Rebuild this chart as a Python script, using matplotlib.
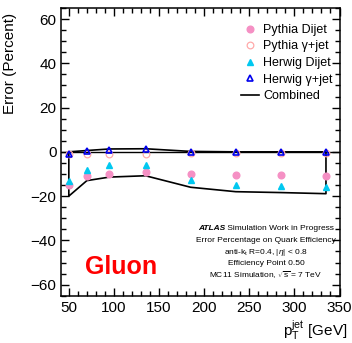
import matplotlib
matplotlib.use("Agg")
import matplotlib.pyplot as plt
from matplotlib.lines import Line2D
from matplotlib.ticker import MultipleLocator

# Jet pT bin centres [GeV]
pt = [50, 70, 95, 135, 185, 235, 285, 335]

# Relative error on the quark efficiency [%] for each generator / sample
pythia_dijet = [-15.0, -10.7, -10.0, -9.2, -10.0, -10.4, -10.4, -10.8]
pythia_gjet = [-1.0, -1.0, -1.0, -1.0, -0.3, -0.3, -0.3, -0.3]
herwig_dijet = [-13.0, -8.0, -6.0, -6.0, -12.9, -14.9, -15.3, -15.9]
herwig_gjet = [-0.8, 0.6, 1.0, 1.2, 0.0, -0.2, -0.2, -0.2]

# Combined envelope (upper / lower edge)
combined_up = [0.0, 0.6, 1.3, 1.4, 0.2, 0.0, 0.0, 0.0]
combined_down = [-20.0, -13.0, -11.4, -10.8, -16.0, -18.0, -18.4, -18.9]

plt.rcParams["font.family"] = ["Liberation Sans", "DejaVu Sans"]
plt.rcParams["mathtext.fontset"] = "custom"
plt.rcParams["mathtext.rm"] = "Liberation Sans"
plt.rcParams["mathtext.it"] = "Liberation Sans:italic"
plt.rcParams["mathtext.bf"] = "Liberation Sans:bold"

W, H = 352, 343
fig = plt.figure(figsize=(W / 100, H / 100), dpi=100)
ax = fig.add_axes([60.7 / W, 1 - 295.7 / H, (339.5 - 60.7) / W, (295.7 - 8) / H])

ax.set_xlim(41, 350)
ax.set_ylim(-65, 65)

# zero line across the full frame
ax.axhline(0, color="black", lw=1.0, zorder=1)

# combined envelope drawn as a closed outline
env_x = pt + pt[::-1] + [pt[0]]
env_y = combined_up + combined_down[::-1] + [combined_up[0]]
ax.plot(env_x, env_y, color="black", lw=1.2, zorder=2)

ax.plot(pt, pythia_dijet, ls="none", marker="o", ms=4.8, mfc="#f590c4",
        mec="#f590c4", zorder=3)
ax.plot(pt, pythia_gjet, ls="none", marker="o", ms=4.8, mfc="none",
        mec="#ffaaaa", mew=0.9, zorder=3)
ax.plot(pt, herwig_dijet, ls="none", marker="^", ms=4.8, mfc="#00c8f0",
        mec="#00c8f0", zorder=4)
ax.plot(pt, herwig_gjet, ls="none", marker="^", ms=5.0, mfc="none",
        mec="#0000ee", mew=1.2, zorder=5)

# axes styling
for s in ax.spines.values():
    s.set_linewidth(1.1)
ax.xaxis.set_major_locator(MultipleLocator(50))
ax.xaxis.set_minor_locator(MultipleLocator(10))
ax.yaxis.set_major_locator(MultipleLocator(20))
ax.yaxis.set_minor_locator(MultipleLocator(5))
ax.tick_params(which="both", direction="in", top=True, right=True,
               labelsize=11, width=1.0)
ax.tick_params(which="major", length=6)
ax.tick_params(which="minor", length=3.3)
ax.tick_params(axis="x", pad=4)
ax.tick_params(axis="y", pad=3)

ax.set_ylabel("Error (Percent)", fontsize=11)
ax.yaxis.set_label_coords(17 / W, 1 - 63 / H, transform=fig.transFigure)
fig.text(347 / W, 1 - 336 / H, r"p$_{\rm T}^{\rm jet}$ [GeV]", fontsize=11,
         ha="right", va="baseline")

# legend
handles = [
    Line2D([], [], ls="none", marker="o", ms=4.8, mfc="#f590c4", mec="#f590c4"),
    Line2D([], [], ls="none", marker="o", ms=4.8, mfc="none", mec="#ffaaaa", mew=0.9),
    Line2D([], [], ls="none", marker="^", ms=4.8, mfc="#00c8f0", mec="#00c8f0"),
    Line2D([], [], ls="none", marker="^", ms=5.0, mfc="none", mec="#0000ee", mew=1.2),
    Line2D([], [], color="black", lw=1.2),
]
labels = ["Pythia Dijet", "Pythia \u03b3+jet", "Herwig Dijet",
          "Herwig \u03b3+jet", "Combined"]
fig.legend(handles, labels, loc="upper left",
           bbox_to_anchor=(241 / W, 1 - 24 / H), frameon=False,
           fontsize=9, numpoints=1, handlelength=1.4, handletextpad=0.35,
           labelspacing=0.36, borderpad=0, borderaxespad=0)

# "Gluon" tag
fig.text(121 / W, 1 - 267 / H, "Gluon", color="red", fontsize=18,
         fontweight="bold", ha="center", va="center")

# info block
cx = 266 / W
fs = 6.0
lines_y = [229, 240.5, 252, 263.5, 275]
fig.canvas.draw()
r = fig.canvas.get_renderer()
t1 = fig.text(0, 1 - lines_y[0] / H, "ATLAS", fontsize=fs, fontweight="bold",
              style="italic", va="center", ha="left")
t2 = fig.text(0, 1 - lines_y[0] / H, " Simulation Work in Progress",
              fontsize=fs, va="center", ha="left")
w1 = t1.get_window_extent(r).width / W
w2 = t2.get_window_extent(r).width / W
x0 = cx - (w1 + w2) / 2
t1.set_x(x0)
t2.set_x(x0 + w1)
info = ["Error Percentage on Quark Efficiency",
        r"anti-k$_{\rm t}$ R=0.4, |$\eta$| < 0.8",
        "Efficiency Point 0.50",
        r"MC11 Simulation, $\sqrt{\rm s}$ = 7 TeV"]
for s, yy in zip(info, lines_y[1:]):
    fig.text(cx, 1 - yy / H, s, fontsize=fs, ha="center", va="center")

fig.savefig("out.png", dpi=100)
